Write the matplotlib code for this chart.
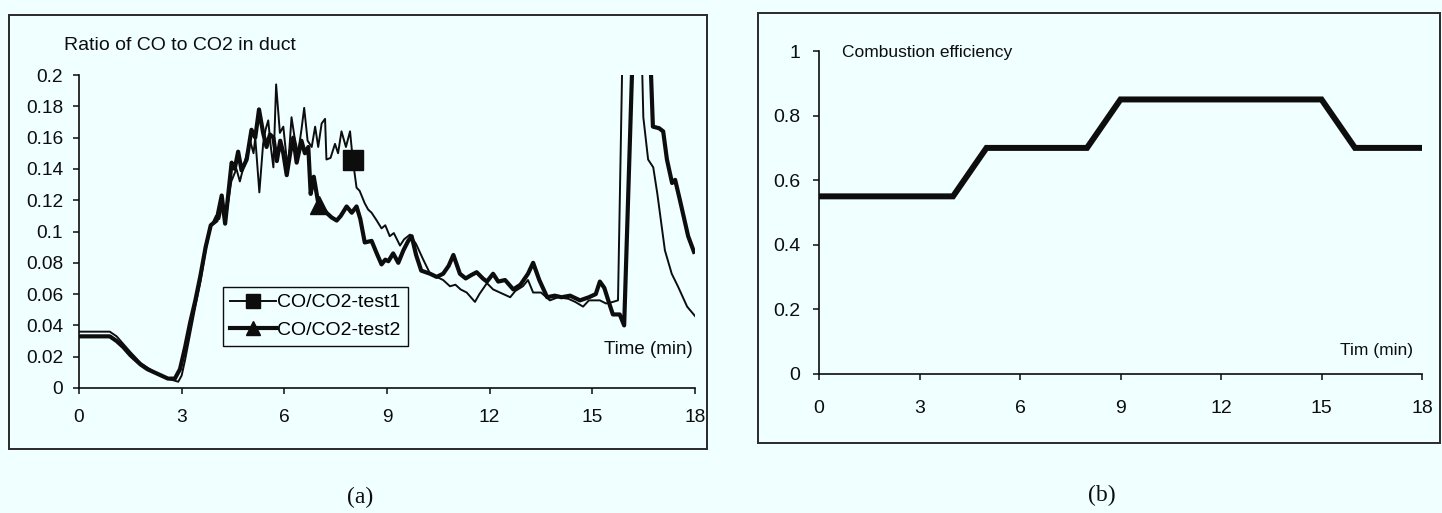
import matplotlib
matplotlib.use("Agg")
import matplotlib.pyplot as plt
from matplotlib.patches import Rectangle
from matplotlib.lines import Line2D

# ---- data -------------------------------------------------------------
t1_time = [0.0, 0.5, 0.9, 1.1, 1.3, 1.5, 1.8, 2.0, 2.3, 2.6, 2.9, 3.0, 3.1, 3.25,
           3.4, 3.55, 3.7, 3.85, 4.0, 4.1, 4.2, 4.3, 4.45, 4.6, 4.7, 4.85, 5.0,
           5.1, 5.15, 5.27, 5.38, 5.45, 5.53, 5.6, 5.68, 5.76, 5.87, 5.97, 6.05,
           6.11, 6.21, 6.3, 6.4, 6.5, 6.58, 6.68, 6.8, 6.9, 6.99, 7.09, 7.19,
           7.23, 7.35, 7.48, 7.57, 7.67, 7.8, 7.92, 8.0, 8.11, 8.2, 8.35, 8.45,
           8.55, 8.7, 8.84, 8.95, 9.08, 9.2, 9.38, 9.5, 9.67, 9.85, 10.06, 10.26,
           10.45, 10.64, 10.84, 11.0, 11.15, 11.33, 11.57, 11.7, 11.92, 12.1,
           12.3, 12.6, 12.75, 12.97, 13.12, 13.27, 13.5, 13.76, 14.0, 14.3, 14.5,
           14.73, 14.9, 15.22, 15.4, 15.6, 15.75, 15.95, 16.35, 16.49, 16.63,
           16.78, 16.9, 17.12, 17.32, 17.5, 17.77, 18.0]
t1_ratio = [0.036, 0.036, 0.036, 0.033, 0.028, 0.023, 0.016, 0.013, 0.009, 0.006,
            0.004, 0.008, 0.018, 0.035, 0.052, 0.068, 0.088, 0.103, 0.110, 0.108,
            0.118, 0.110, 0.132, 0.140, 0.132, 0.145, 0.158, 0.150, 0.160, 0.125,
            0.156, 0.165, 0.171, 0.155, 0.141, 0.194, 0.163, 0.167, 0.150, 0.141,
            0.173, 0.160, 0.150, 0.165, 0.179, 0.158, 0.154, 0.167, 0.154, 0.169,
            0.172, 0.146, 0.147, 0.156, 0.150, 0.164, 0.154, 0.164, 0.146, 0.128,
            0.126, 0.118, 0.114, 0.112, 0.107, 0.102, 0.104, 0.097, 0.099, 0.091,
            0.095, 0.098, 0.092, 0.082, 0.073, 0.071, 0.069, 0.065, 0.066, 0.063,
            0.061, 0.055, 0.060, 0.067, 0.063, 0.061, 0.058, 0.062, 0.065, 0.069,
            0.061, 0.061, 0.056, 0.058, 0.057, 0.055, 0.052, 0.056, 0.056, 0.054,
            0.055, 0.056, 0.300, 0.300, 0.173, 0.146, 0.141, 0.124, 0.088, 0.073,
            0.065, 0.052, 0.046]

t2_time = [0.0, 0.5, 0.9, 1.1, 1.3, 1.5, 1.8, 2.0, 2.3, 2.6, 2.8, 2.95, 3.1, 3.25,
           3.4, 3.55, 3.7, 3.85, 4.02, 4.17, 4.27, 4.46, 4.55, 4.65, 4.75, 4.9,
           5.04, 5.15, 5.26, 5.38, 5.48, 5.58, 5.68, 5.78, 5.88, 5.97, 6.07, 6.17,
           6.26, 6.36, 6.5, 6.6, 6.7, 6.77, 6.86, 7.0, 7.12, 7.23, 7.38, 7.53,
           7.65, 7.82, 7.97, 8.11, 8.22, 8.35, 8.55, 8.7, 8.84, 8.95, 9.04, 9.18,
           9.33, 9.48, 9.62, 9.72, 9.85, 10.0, 10.26, 10.45, 10.64, 10.8, 10.94,
           11.13, 11.3, 11.45, 11.62, 11.8, 11.92, 12.1, 12.25, 12.45, 12.69,
           12.9, 13.12, 13.27, 13.45, 13.68, 13.9, 14.1, 14.35, 14.64, 14.9, 15.1,
           15.22, 15.35, 15.48, 15.6, 15.8, 15.93, 16.3, 16.55, 16.77, 16.95,
           17.07, 17.18, 17.33, 17.42, 17.56, 17.8, 17.97]
t2_ratio = [0.033, 0.033, 0.033, 0.030, 0.026, 0.021, 0.015, 0.012, 0.009, 0.006,
            0.006, 0.012, 0.026, 0.042, 0.056, 0.072, 0.090, 0.104, 0.107, 0.123,
            0.105, 0.144, 0.140, 0.151, 0.139, 0.146, 0.165, 0.160, 0.178, 0.163,
            0.154, 0.162, 0.160, 0.145, 0.158, 0.150, 0.136, 0.150, 0.160, 0.144,
            0.158, 0.150, 0.154, 0.124, 0.135, 0.117, 0.115, 0.112, 0.109, 0.107,
            0.110, 0.116, 0.112, 0.116, 0.108, 0.093, 0.094, 0.086, 0.079, 0.082,
            0.081, 0.086, 0.080, 0.088, 0.094, 0.097, 0.085, 0.075, 0.073, 0.071,
            0.073, 0.078, 0.085, 0.073, 0.070, 0.072, 0.074, 0.070, 0.068, 0.073,
            0.068, 0.069, 0.063, 0.066, 0.073, 0.080, 0.069, 0.058, 0.059, 0.058,
            0.059, 0.056, 0.058, 0.060, 0.068, 0.064, 0.055, 0.047, 0.047, 0.040,
            0.300, 0.300, 0.167, 0.166, 0.164, 0.146, 0.131, 0.133, 0.120, 0.097,
            0.087]

# marked samples of each test
t1_marker_time = 8.0
t2_marker_time = 7.0

eff_time = [0, 4, 5, 8, 9, 15, 16, 18]
eff_value = [0.55, 0.55, 0.70, 0.70, 0.85, 0.85, 0.70, 0.70]

ratio_ticks = [0, 0.02, 0.04, 0.06, 0.08, 0.1, 0.12, 0.14, 0.16, 0.18, 0.2]
eff_ticks = [0, 0.2, 0.4, 0.6, 0.8, 1]
time_ticks = [0, 3, 6, 9, 12, 15, 18]

# ---- styling ----------------------------------------------------------
W, H = 1442, 513
BG = "#f0ffff"
INK = "#0d0d0d"
plt.rcParams["font.family"] = ["Liberation Sans", "DejaVu Sans"]

fig = plt.figure(figsize=(W / 100, H / 100), dpi=100, facecolor=BG)


def px_box(x0, y0, x1, y1):
    """Figure-fraction rectangle [left, bottom, width, height] from pixel edges."""
    return [x0 / W, 1 - y1 / H, (x1 - x0) / W, (y1 - y0) / H]


def style_axes(ax, xpad, ypad, size):
    ax.set_facecolor(BG)
    for side in ("top", "right"):
        ax.spines[side].set_visible(False)
    for side in ("left", "bottom"):
        ax.spines[side].set_color(INK)
        ax.spines[side].set_linewidth(1.2)
    ax.tick_params(axis="both", direction="out", length=4.5, width=1.1,
                   color=INK, labelsize=size, labelcolor=INK)
    ax.tick_params(axis="x", pad=xpad)
    ax.tick_params(axis="y", pad=ypad)


# panel frames
for box in (px_box(9, 15, 707, 449), px_box(758, 13, 1440, 443)):
    fig.add_artist(Rectangle((box[0], box[1]), box[2], box[3],
                             transform=fig.transFigure, fill=False,
                             edgecolor="#2a2a2a", linewidth=1.4))

# ---- (a) CO / CO2 ratio ----------------------------------------------
ax1 = fig.add_axes(px_box(79, 75, 695, 388))
style_axes(ax1, xpad=10.5, ypad=7, size=13.8)
ax1.plot(t1_time, t1_ratio, color=INK, lw=1.4, marker="s", markersize=14,
         markevery=[t1_time.index(t1_marker_time)], solid_joinstyle="round")
ax1.plot(t2_time, t2_ratio, color=INK, lw=3.0, marker="^", markersize=13,
         markevery=[t2_time.index(t2_marker_time)], solid_joinstyle="round")
ax1.set_xlim(0, 18)
ax1.set_ylim(0, 0.2)
ax1.set_xticks(time_ticks)
ax1.set_yticks(ratio_ticks)
ax1.set_yticklabels([f"{v:g}" for v in ratio_ticks])

legend_handles = [
    Line2D([], [], color=INK, lw=1.4, marker="s", markersize=9.5),
    Line2D([], [], color=INK, lw=3.0, marker="^", markersize=10),
]
leg = ax1.legend(legend_handles, ["CO/CO2-test1", "CO/CO2-test2"],
                 loc="upper left", bbox_to_anchor=(223 / W, 1 - 287 / H),
                 bbox_transform=fig.transFigure, borderaxespad=0,
                 fontsize=14, handlelength=2.4, handletextpad=0.05,
                 labelspacing=0.5, borderpad=0.35, fancybox=False,
                 framealpha=1, facecolor=BG, edgecolor=INK)
leg.get_frame().set_linewidth(1.0)

fig.text(64 / W, 1 - 45 / H, "Ratio of CO to CO2 in duct", ha="left",
         va="center", fontsize=14, color=INK)
fig.text(693 / W, 1 - 350 / H, "Time (min)", ha="right", va="center",
         fontsize=13.5, color=INK)

# ---- (b) combustion efficiency ---------------------------------------
ax2 = fig.add_axes(px_box(819, 51, 1422, 374))
style_axes(ax2, xpad=14, ypad=9, size=14)
ax2.plot(eff_time, eff_value, color=INK, lw=4.3, solid_joinstyle="miter",
         solid_capstyle="butt")
ax2.set_xlim(0, 18)
ax2.set_ylim(0, 1)
ax2.set_xticks(time_ticks)
ax2.set_yticks(eff_ticks)
ax2.set_yticklabels([f"{v:g}" for v in eff_ticks])

fig.text(842 / W, 1 - 52 / H, "Combustion efficiency", ha="left",
         va="center", fontsize=12.5, color=INK)
fig.text(1413 / W, 1 - 350 / H, "Tim (min)", ha="right", va="center",
         fontsize=12.5, color=INK)

# ---- panel captions ---------------------------------------------------
fig.text(360 / W, 1 - 497 / H, "(a)", ha="center", va="center",
         fontsize=17, family=["Liberation Serif", "DejaVu Serif"], color=INK)
fig.text(1102 / W, 1 - 495 / H, "(b)", ha="center", va="center",
         fontsize=17, family=["Liberation Serif", "DejaVu Serif"], color=INK)

fig.savefig("out.png", dpi=100, facecolor=BG)
